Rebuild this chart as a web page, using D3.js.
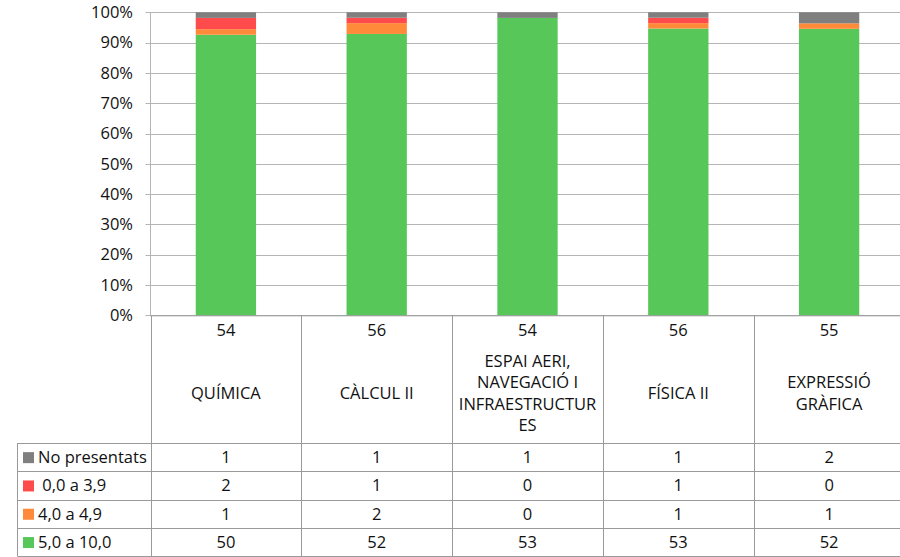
<!DOCTYPE html>
<html><head><meta charset="utf-8">
<script src="https://cdn.jsdelivr.net/npm/d3@7/dist/d3.min.js"></script>
<style>
html,body{margin:0;padding:0;background:#fff;}
svg text{font-family:"Open Sans","Liberation Sans",sans-serif;fill:#111;white-space:pre;}
</style></head>
<body><svg id="c" width="900" height="557"></svg>
<script>
const categories = ["QUÍMICA", "CÀLCUL II", "ESPAI AERI, NAVEGACIÓ I INFRAESTRUCTURES", "FÍSICA II", "EXPRESSIÓ GRÀFICA"];
const categoryLines = [["QUÍMICA"], ["CÀLCUL II"], ["ESPAI AERI,", "NAVEGACIÓ I", "INFRAESTRUCTUR", "ES"], ["FÍSICA II"], ["EXPRESSIÓ", "GRÀFICA"]];
const totals = [54, 56, 54, 56, 55];
const seriesNames = ["No presentats", " 0,0 a 3,9", "4,0 a 4,9", "5,0 a 10,0"];
const noPresentats = [1, 1, 1, 1, 2];
const low = [2, 1, 0, 1, 0];
const mid = [1, 2, 0, 1, 1];
const pass = [50, 52, 53, 53, 52];
const seriesColors = ["#7f7f7f", "#ff4b4b", "#ff8b3a", "#58c75a"];
const yTicks = [0, 0.1, 0.2, 0.3, 0.4, 0.5, 0.6, 0.7, 0.8, 0.9, 1.0];

(function () {
const seriesValues = [noPresentats, low, mid, pass];
const rows = categories.map((c, i) => ({cat: c, np: noPresentats[i], low: low[i], mid: mid[i], pass: pass[i], total: totals[i]}));

const svg = d3.select("#c");
const pLeft = 150.5, pRight = 904.5, pTop = 12.3, pBottom = 315.3;
const x = d3.scaleBand().domain(categories).range([pLeft, pRight]).paddingInner(0).paddingOuter(0);
const y = d3.scaleLinear().domain([0, 1]).range([pBottom, pTop]);
const gridColor = "#b5b5b5", tableColor = "#9a9a9a";
const fs = 16.5;

svg.append("g").selectAll("line").data(yTicks).join("line")
  .attr("x1", pLeft - 5).attr("x2", pRight)
  .attr("y1", d => Math.round(y(d)) + 0.5).attr("y2", d => Math.round(y(d)) + 0.5)
  .attr("stroke", gridColor).attr("stroke-width", 1);

svg.append("g").selectAll("text").data(yTicks).join("text")
  .attr("x", 133).attr("y", d => y(d)).attr("dy", "0.35em")
  .attr("text-anchor", "end").attr("font-size", fs)
  .text(d => d3.format(".0%")(d));

const stack = d3.stack().keys(["pass", "mid", "low", "np"])
  .value((d, k) => d[k] / d.total);
const stacked = stack(rows);
const colorOf = {np: seriesColors[0], low: seriesColors[1], mid: seriesColors[2], pass: seriesColors[3]};
const bw = x.bandwidth() * 0.4;
svg.append("g").selectAll("g").data(stacked).join("g")
  .attr("fill", d => colorOf[d.key])
  .selectAll("rect").data(d => d).join("rect")
  .attr("x", d => x(d.data.cat) + (x.bandwidth() - bw) / 2)
  .attr("width", bw)
  .attr("y", d => y(d[1]))
  .attr("height", d => Math.max(0, y(d[0]) - y(d[1])));

svg.append("line").attr("x1", pLeft).attr("x2", pLeft).attr("y1", pTop).attr("y2", pBottom)
  .attr("stroke", gridColor);

const headerBottom = 443, rowH = 28.3, legendLeft = 17.5;
const tg = svg.append("g");
tg.append("line").attr("x1", pLeft).attr("x2", pRight).attr("y1", pBottom + 0.5).attr("y2", pBottom + 0.5).attr("stroke", tableColor);
[0, 1, 2, 3, 4].forEach(i => {
  const yy = Math.round(headerBottom + i * rowH) + 0.5;
  tg.append("line").attr("x1", legendLeft).attr("x2", pRight).attr("y1", yy).attr("y2", yy).attr("stroke", tableColor);
});
categories.concat([null]).forEach((c) => {
  const xx = Math.round(c === null ? pRight : x(c)) + 0.5;
  tg.append("line").attr("x1", xx).attr("x2", xx).attr("y1", pBottom).attr("y2", headerBottom + 4 * rowH).attr("stroke", tableColor);
});
tg.append("line").attr("x1", legendLeft).attr("x2", legendLeft).attr("y1", headerBottom).attr("y2", headerBottom + 4 * rowH).attr("stroke", tableColor);

tg.selectAll("text.tot").data(rows).join("text").attr("class", "tot")
  .attr("x", d => x(d.cat) + x.bandwidth() / 2).attr("y", 330.5).attr("dy", "0.35em")
  .attr("text-anchor", "middle").attr("font-size", fs).text(d => d.total);
const lineH = 21.5, midY = 393;
categories.forEach((c, i) => {
  const lines = categoryLines[i];
  const y0 = midY - (lines.length - 1) * lineH / 2;
  lines.forEach((ln, j) => {
    tg.append("text").attr("x", x(c) + x.bandwidth() / 2).attr("y", y0 + j * lineH).attr("dy", "0.35em")
      .attr("text-anchor", "middle").attr("font-size", 16.5).text(ln);
  });
});

seriesNames.forEach((name, r) => {
  const cy = headerBottom + r * rowH + rowH / 2;
  tg.append("rect").attr("x", 23).attr("y", cy - 5).attr("width", 11).attr("height", 11).attr("fill", seriesColors[r]);
  tg.append("text").attr("x", 38).attr("y", cy).attr("dy", "0.35em").attr("font-size", fs).text(name);
  seriesValues[r].forEach((v, i) => {
    tg.append("text").attr("x", x(categories[i]) + x.bandwidth() / 2).attr("y", cy).attr("dy", "0.35em")
      .attr("text-anchor", "middle").attr("font-size", fs).text(v);
  });
});
})();
</script></body></html>
